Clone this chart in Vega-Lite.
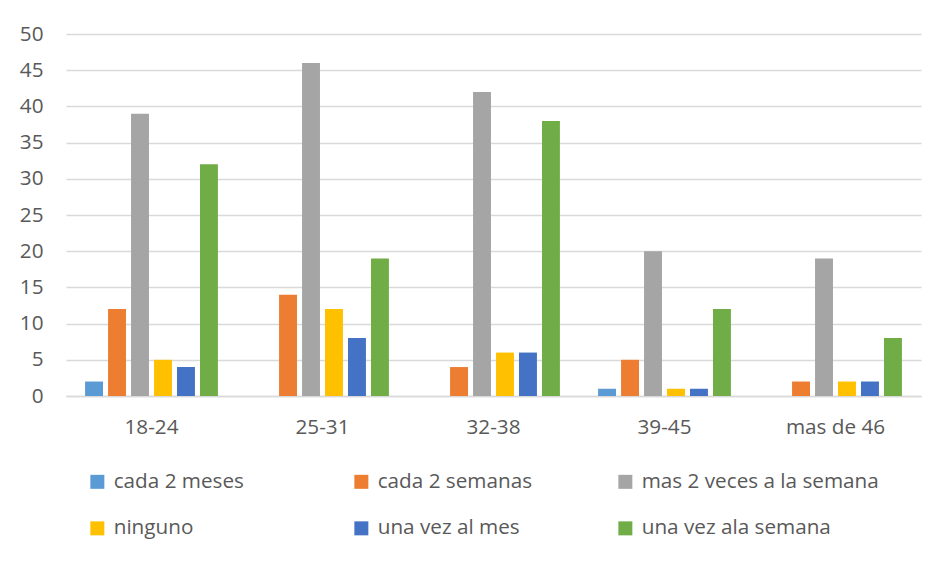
{
  "$schema": "https://vega.github.io/schema/vega-lite/v6.json",
  "autosize": {"type": "none"},
  "width": 855,
  "height": 362,
  "padding": {"left": 66, "top": 34, "right": 27, "bottom": 165},
  "background": "white",
  "data": {
    "values": [
      {"edad": "18-24", "frecuencia": "cada 2 meses", "n": 2},
      {"edad": "18-24", "frecuencia": "cada 2 semanas", "n": 12},
      {"edad": "18-24", "frecuencia": "mas 2 veces a la semana", "n": 39},
      {"edad": "18-24", "frecuencia": "ninguno", "n": 5},
      {"edad": "18-24", "frecuencia": "una vez al mes", "n": 4},
      {"edad": "18-24", "frecuencia": "una vez ala semana", "n": 32},
      {"edad": "25-31", "frecuencia": "cada 2 meses", "n": 0},
      {"edad": "25-31", "frecuencia": "cada 2 semanas", "n": 14},
      {"edad": "25-31", "frecuencia": "mas 2 veces a la semana", "n": 46},
      {"edad": "25-31", "frecuencia": "ninguno", "n": 12},
      {"edad": "25-31", "frecuencia": "una vez al mes", "n": 8},
      {"edad": "25-31", "frecuencia": "una vez ala semana", "n": 19},
      {"edad": "32-38", "frecuencia": "cada 2 meses", "n": 0},
      {"edad": "32-38", "frecuencia": "cada 2 semanas", "n": 4},
      {"edad": "32-38", "frecuencia": "mas 2 veces a la semana", "n": 42},
      {"edad": "32-38", "frecuencia": "ninguno", "n": 6},
      {"edad": "32-38", "frecuencia": "una vez al mes", "n": 6},
      {"edad": "32-38", "frecuencia": "una vez ala semana", "n": 38},
      {"edad": "39-45", "frecuencia": "cada 2 meses", "n": 1},
      {"edad": "39-45", "frecuencia": "cada 2 semanas", "n": 5},
      {"edad": "39-45", "frecuencia": "mas 2 veces a la semana", "n": 20},
      {"edad": "39-45", "frecuencia": "ninguno", "n": 1},
      {"edad": "39-45", "frecuencia": "una vez al mes", "n": 1},
      {"edad": "39-45", "frecuencia": "una vez ala semana", "n": 12},
      {"edad": "mas de 46", "frecuencia": "cada 2 meses", "n": 0},
      {"edad": "mas de 46", "frecuencia": "cada 2 semanas", "n": 2},
      {"edad": "mas de 46", "frecuencia": "mas 2 veces a la semana", "n": 19},
      {"edad": "mas de 46", "frecuencia": "ninguno", "n": 2},
      {"edad": "mas de 46", "frecuencia": "una vez al mes", "n": 2},
      {"edad": "mas de 46", "frecuencia": "una vez ala semana", "n": 8}
    ]
  },
  "mark": {"type": "bar"},
  "encoding": {
    "x": {
      "field": "edad",
      "type": "nominal",
      "sort": null,
      "scale": {"paddingInner": 0, "paddingOuter": 0},
      "axis": {
        "title": null,
        "labelAngle": 0,
        "ticks": false,
        "domain": true,
        "domainColor": "#d9d9d9",
        "domainWidth": 1.5,
        "labelPadding": 21,
        "labelFontSize": 20.7,
        "labelColor": "#595959",
        "labelFont": "Open Sans"
      }
    },
    "xOffset": {
      "field": "frecuencia",
      "type": "nominal",
      "sort": ["cada 2 meses", "cada 2 semanas", "mas 2 veces a la semana", "ninguno", "una vez al mes", "una vez ala semana"],
      "scale": {"paddingInner": 0.22, "paddingOuter": 0.83}
    },
    "y": {
      "field": "n",
      "type": "quantitative",
      "scale": {"domain": [0, 50], "nice": false},
      "axis": {
        "title": null,
        "values": [0, 5, 10, 15, 20, 25, 30, 35, 40, 45, 50],
        "ticks": false,
        "domain": false,
        "grid": true,
        "gridColor": "#d9d9d9",
        "gridWidth": 1.5,
        "labelPadding": 23,
        "labelFontSize": 20.7,
        "labelColor": "#595959",
        "labelFont": "Open Sans"
      }
    },
    "color": {
      "field": "frecuencia",
      "type": "nominal",
      "scale": {
        "domain": ["cada 2 meses", "cada 2 semanas", "mas 2 veces a la semana", "ninguno", "una vez al mes", "una vez ala semana"],
        "range": ["#5B9BD5", "#ED7D31", "#A5A5A5", "#FFC000", "#4472C4", "#70AD47"]
      },
      "legend": {
        "title": null,
        "orient": "none",
        "direction": "horizontal",
        "legendX": 21,
        "legendY": 437,
        "columns": 3,
        "gridAlign": "all",
        "columnPadding": -1,
        "rowPadding": 25,
        "symbolType": "square",
        "symbolSize": 196,
        "symbolStrokeWidth": 0,
        "labelOffset": 6,
        "labelFontSize": 20.7,
        "labelColor": "#595959",
        "labelFont": "Open Sans",
        "labelLimit": 400
      }
    }
  },
  "config": {
    "view": {"stroke": null}
  }
}
